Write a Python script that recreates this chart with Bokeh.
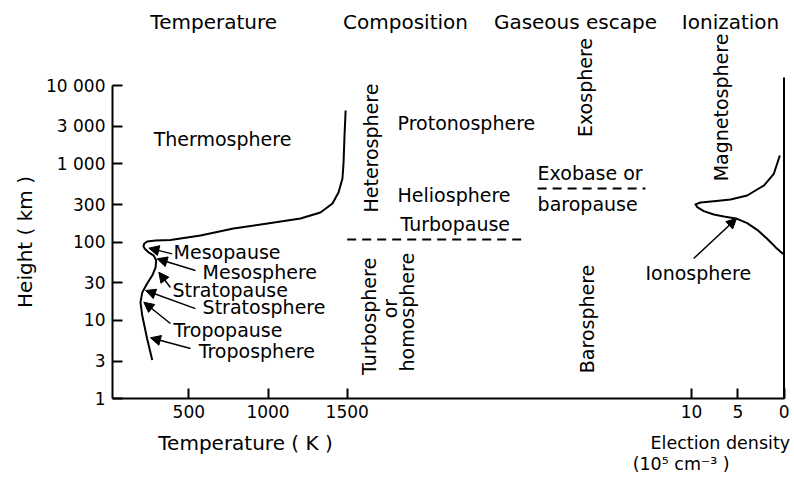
import math
from bokeh.plotting import figure
from bokeh.models import Range1d, FixedTicker, Label, Arrow, NormalHead
from bokeh.embed import file_html
from bokeh.resources import INLINE

# ---------------- data ----------------
height_ticks = [1, 3, 10, 30, 100, 300, 1000, 3000, 10000]
height_tick_labels = ["1", "3", "10", "30", "100", "300", "1 000", "3 000", "10 000"]
temp_ticks = [500, 1000, 1500]
temp_tick_labels = ["500", "1000", "1500"]
density_ticks = [10, 5, 0]
density_tick_labels = ["10", "5", "0"]

# temperature profile (K) vs height (km)
temp_K = [269, 237, 206, 195, 206, 237, 269, 290, 294, 279, 247, 222, 214, 218, 237, 290,
          384, 574, 782, 997, 1205, 1331, 1407, 1445, 1470, 1477, 1483, 1490]
temp_km = [3.1, 5.8, 11.5, 16.9, 22.6, 29.5, 37.3, 47, 58, 67, 73.5, 82, 88, 95, 101.5, 104.5,
           106, 121, 149, 172, 200, 238, 310, 429, 648, 1037, 2296, 4790]

# electron density (1e5 cm^-3) vs height (km)
ion_density = [0.45, 1.1, 2.18, 3.98, 5.78, 7.59, 9.03, 9.57, 9.38, 8.67, 7.59, 6.5, 5.06,
               3.98, 2.9, 1.82, 0.92, 0.19, 0.03]
ion_km = [1275, 744, 527, 393, 349, 332, 320, 303, 279, 248, 225, 212, 198,
          174, 143, 110, 86, 72, 70]

turbopause_km = 108
exobase_km = 483
density_top_km = 12650

FONT = "DejaVu Sans"

# ---------------- figure ----------------
# plotting frame covers the whole canvas; axes are pinned with fixed_location
T_LEFT, T_RIGHT = -688.8, 4323.8
NE_LEFT, NE_RIGHT = 84.70, -1.135
H_BOTTOM, H_TOP = 0.0870, 121990
T_AXIS = 18.3

p = figure(width=794, height=481,
           x_range=Range1d(T_LEFT, T_RIGHT), y_range=Range1d(H_BOTTOM, H_TOP),
           y_axis_type="log", output_backend="svg", toolbar_location=None,
           min_border=0, min_border_left=0, min_border_right=0,
           min_border_top=0, min_border_bottom=0)
p.extra_x_ranges = {"ne": Range1d(NE_LEFT, NE_RIGHT)}
p.xgrid.visible = False
p.ygrid.visible = False
p.outline_line_color = None
p.background_fill_color = "white"
p.border_fill_color = "white"


def ne_to_T(ne):
    return T_LEFT + (NE_LEFT - ne) / (NE_LEFT - NE_RIGHT) * (T_RIGHT - T_LEFT)


# y axis
ya = p.yaxis[0]
ya.ticker = FixedTicker(ticks=height_ticks)
ya.major_label_overrides = {t: l for t, l in zip(height_ticks, height_tick_labels)}
ya.bounds = (1, 10000)
ya.fixed_location = T_AXIS
ya.axis_label = "Height ( km )"

# x axis (temperature + electron density share the same baseline)
dens_pos = [int(round(ne_to_T(n))) for n in density_ticks]
xa = p.xaxis[0]
xa.ticker = FixedTicker(ticks=temp_ticks + dens_pos)
ov = {t: l for t, l in zip(temp_ticks, temp_tick_labels)}
ov.update({t: l for t, l in zip(dens_pos, density_tick_labels)})
xa.major_label_overrides = ov
xa.bounds = (T_AXIS, ne_to_T(0))
xa.fixed_location = 1

for ax in (xa, ya):
    ax.axis_line_width = 2
    ax.axis_line_color = "black"
    ax.major_tick_line_width = 2
    ax.major_tick_line_color = "black"
    ax.major_tick_in = 10
    ax.major_tick_out = 0
    ax.minor_tick_line_color = None
    ax.major_label_text_font = FONT
    ax.major_label_text_font_size = "17px"
    ax.major_label_text_color = "black"
    ax.axis_label_text_font = FONT
    ax.axis_label_text_font_size = "20px"
    ax.axis_label_text_font_style = "normal"
    ax.axis_label_text_color = "black"
ya.major_label_standoff = 7
xa.major_label_standoff = 6
ya.axis_label_standoff = 6

# curves
p.line(temp_K, temp_km, line_width=2, color="black", line_join="round")
p.line(ion_density, ion_km, x_range_name="ne", line_width=2, color="black",
       line_join="round")
p.line([0, 0], [1, density_top_km], x_range_name="ne", line_width=2, color="black")

# boundaries
p.line([1500, 2605], [turbopause_km, turbopause_km], line_width=2, color="black",
       line_dash="9 6")
p.line([2702, 3383], [exobase_km, exobase_km], line_width=2, color="black",
       line_dash="9 6")


def label(text, x, y, align="left", angle=0.0, size="19px"):
    p.add_layout(Label(x=x, y=y, text=text, text_font=FONT, text_font_size=size,
                       text_align=align, text_baseline="middle", angle=angle,
                       text_color="black"))


# headers
HEAD_Y = 64400
label("Temperature", 657, HEAD_Y, "center", 0.0, "20px")
label("Composition", 1868, HEAD_Y, "center", 0.0, "20px")
label("Gaseous escape", 2941, HEAD_Y, "center", 0.0, "20px")
label("Ionization", 3920, HEAD_Y, "center", 0.0, "20px")

# region names
label("Thermosphere", 278, 2042)
label("Protonosphere", 1818, 3365)
label("Heliosphere", 1818, 393)
label("Turbopause", 1836, 172)
label("Exobase or", 2702, 773)
label("baropause", 2702, 310)
label("Ionosphere", 3383, 39.6)
label("Mesopause", 404, 73.5)
label("Mesosphere", 587, 40.8)
label("Stratopause", 397, 24.7)
label("Stratosphere", 587, 14.6)
label("Tropopause", 404, 7.6)
label("Troposphere", 562, 4.1)

V = math.pi / 2
label("Heterosphere", 1653, 1587, "center", V)
label("Turbosphere", 1637, 11.2, "center", V)
label("or", 1769, 14.1, "center", V)
label("homosphere", 1879, 12.7, "center", V)
label("Exosphere", 3004, 9425, "center", V)
label("Barosphere", 3015, 10.4, "center", V)
label("Magnetosphere", 3857, 5236, "center", V)

# bottom texts
label("Temperature ( K )", 858, 0.27, "center", 0.0, "20px")
label("Election density", 3415, 0.27, "left", 0.0, "17.5px")
label("(10\u2075 cm\u207b\u00b3 )", 3302, 0.145, "left", 0.0, "17.5px")

# arrows (tail -> tip)
arrows = [
    ((395, 70.5), (248, 83.5)),
    ((542, 43.2), (300, 61)),
    ((384, 26.2), (311, 41.1)),
    ((542, 14.1), (227, 24.0)),
    ((384, 9.1), (216, 17.0)),
    ((511, 4.36), (258, 5.97)),
    ((3687, 61.5), (3958, 200)),
]
for (x0, y0), (x1, y1) in arrows:
    p.add_layout(Arrow(x_start=x0, y_start=y0, x_end=x1, y_end=y1, line_width=1.5,
                       line_color="black",
                       end=NormalHead(size=10, fill_color="black", line_color="black",
                                      line_width=1)))

open("out.html", "w").write(file_html(p, INLINE))
